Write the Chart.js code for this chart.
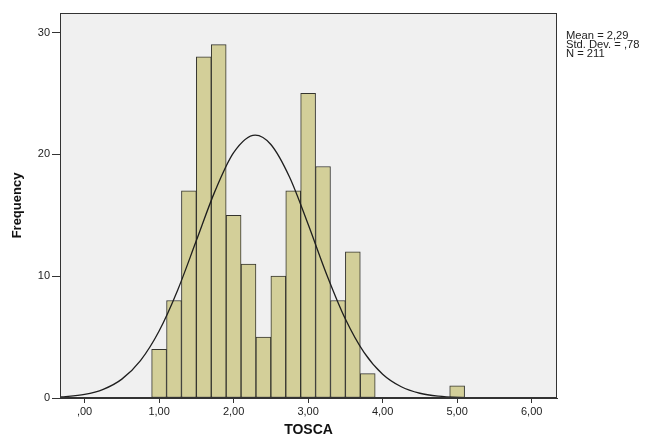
<!DOCTYPE html>
<html>
<head>
<meta charset="utf-8">
<script src="https://cdn.jsdelivr.net/npm/chart.js@4/dist/chart.umd.min.js"></script>
<style>
  html, body { margin: 0; padding: 0; background: #ffffff; }
  #wrap { position: relative; width: 650px; height: 437px; overflow: hidden; }
  #stats { position: absolute; left: 566px; top: 31px; font-family: "Liberation Sans", Arial, sans-serif;
           font-size: 10px; line-height: 9px; color: #222; transform: scaleX(1.12); transform-origin: left top; white-space: nowrap; }
</style>
</head>
<body>
<div id="wrap">
  <canvas id="c" width="650" height="437"></canvas>
  <div id="stats">Mean = 2,29<br>Std. Dev. = ,78<br>N = 211</div>
</div>
<script>
// Histogram bins (bin centers, width 0.2) and frequencies
const binCenters = [1.0, 1.2, 1.4, 1.6, 1.8, 2.0, 2.2, 2.4, 2.6, 2.8, 3.0, 3.2, 3.4, 3.6, 3.8, 5.0];
const frequencies = [4, 8, 17, 28, 29, 15, 11, 5, 10, 17, 25, 19, 8, 12, 2, 1];

// Normal curve
const curveX = [-0.33, 0, 0.25, 0.5, 0.75, 1.0, 1.25, 1.5, 1.75, 2.0, 2.29, 2.5, 2.75, 3.0, 3.25, 3.5, 3.75, 4.0, 4.25, 4.5, 4.75, 5.0, 5.25, 5.5, 6.0, 6.34];
const curveY = [0.08, 0.29, 0.71, 1.55, 3.07, 5.50, 8.87, 12.92, 16.98, 20.14, 21.58, 20.81, 18.14, 14.26, 10.12, 6.48, 3.74, 1.95, 0.92, 0.39, 0.15, 0.05, 0.02, 0.01, 0, 0];

// Tick values
const xTicks = [0, 1, 2, 3, 4, 5, 6];
const yTicks = [0, 10, 20, 30];

const fmt = v => (v === 0 ? ',00' : v.toFixed(2).replace('.', ','));

const plotBg = {
  id: 'plotBg',
  beforeDraw(chart) {
    const {ctx, chartArea: a} = chart;
    ctx.save();
    ctx.fillStyle = '#f0f0f0';
    ctx.fillRect(a.left, a.top, a.right - a.left, a.bottom - a.top);
    ctx.restore();
  },
  afterDraw(chart) {
    const {ctx, chartArea: a} = chart;
    ctx.save();
    ctx.strokeStyle = '#333';
    ctx.lineWidth = 1;
    ctx.strokeRect(Math.round(a.left) + 0.5, Math.round(a.top) + 0.5, Math.round(a.right - a.left) - 1, Math.round(a.bottom - a.top) - 1);
    ctx.restore();
  }
};

const tickFont = { family: '"Liberation Sans", Arial, sans-serif', size: 11 };

new Chart(document.getElementById('c'), {
  type: 'bar',
  data: {
    datasets: [
      {
        type: 'line',
        order: 0,
        data: curveX.map((x, i) => ({ x: x, y: curveY[i] })),
        borderColor: '#1e1e1e',
        borderWidth: 1.3,
        pointRadius: 0,
        fill: false,
        cubicInterpolationMode: 'monotone'
      },
      {
        type: 'bar',
        order: 1,
        data: binCenters.map((x, i) => ({ x: x, y: frequencies[i] })),
        backgroundColor: '#d3cf99',
        borderColor: '#34342e',
        borderWidth: 1,
        borderSkipped: false,
        barPercentage: 1,
        categoryPercentage: 1
      }
    ]
  },
  options: {
    responsive: false,
    animation: false,
    layout: { padding: { top: 13, right: 93, bottom: 0, left: 0 } },
    plugins: { legend: { display: false }, tooltip: { enabled: false } },
    scales: {
      x: {
        type: 'linear',
        min: -0.33,
        max: 6.34,
        offset: false,
        afterFit(s) { s.height = 39; },
        afterBuildTicks(s) { s.ticks = xTicks.map(v => ({ value: v })); },
        grid: { display: true, drawOnChartArea: false, drawTicks: true, tickLength: 5, color: '#333', offset: false },
        border: { display: true, color: '#333' },
        ticks: { stepSize: 1, includeBounds: false, padding: 2, color: '#222', font: tickFont, maxRotation: 0, callback: v => fmt(v) },
        title: { display: true, text: 'TOSCA', color: '#111', padding: { top: 0, bottom: 0 },
                 font: { family: '"Liberation Sans", Arial, sans-serif', size: 14, weight: 'bold', lineHeight: 1 } }
      },
      y: {
        type: 'linear',
        min: 0,
        max: 31.6,
        afterFit(s) { s.width = 60; },
        afterBuildTicks(s) { s.ticks = yTicks.map(v => ({ value: v })); },
        grid: { display: true, drawOnChartArea: false, drawTicks: true, tickLength: 8, color: '#333' },
        border: { display: true, color: '#333' },
        ticks: { stepSize: 10, includeBounds: false, padding: 2, color: '#222', font: tickFont },
        title: { display: true, text: 'Frequency', color: '#111', padding: { top: 10, bottom: 0 },
                 font: { family: '"Liberation Sans", Arial, sans-serif', size: 13, weight: 'bold', lineHeight: 1.2 } }
      }
    }
  },
  plugins: [plotBg]
});
</script>
</body>
</html>
